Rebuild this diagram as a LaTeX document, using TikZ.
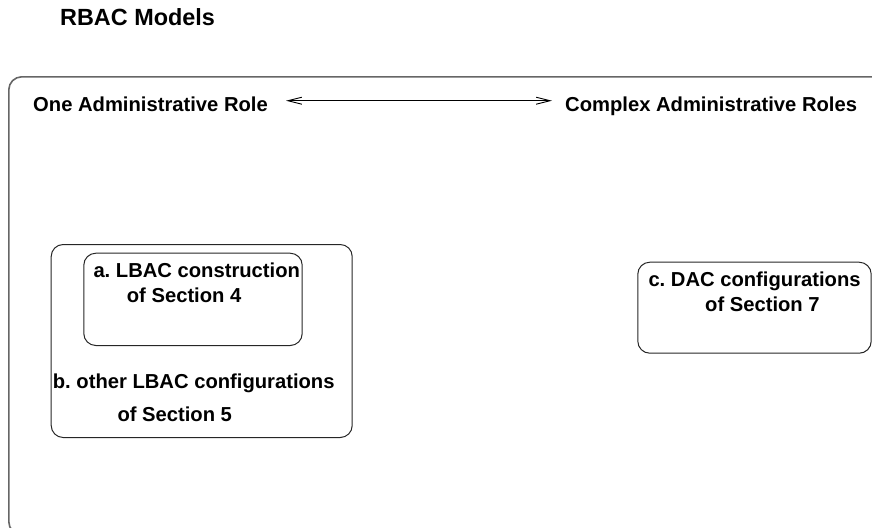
\documentclass[tikz,border=0pt]{standalone}
\usepackage{fontspec}
\setmainfont{Liberation Sans}
\usetikzlibrary{arrows.meta}
\begin{document}
\frenchspacing
\begin{tikzpicture}[x=1pt,y=-1pt,
  lbl/.style={anchor=base west,inner sep=0pt,font=\fontsize{20.2}{24}\selectfont\bfseries\frenchspacing},
  ttl/.style={anchor=base west,inner sep=0pt,font=\fontsize{23.4}{28}\selectfont\bfseries},
  rbox/.style={draw=black!85,line width=1pt,rounded corners=12pt,anchor=north west,inner sep=0pt},
  outerbox/.style={draw=black!60,line width=1.6pt,rounded corners=13pt,anchor=north west,inner sep=0pt},
  dbl/.style={{Straight Barb[length=14pt,width=7pt]}-{Straight Barb[length=14pt,width=7pt]},line width=0.9pt}]
\useasboundingbox (0,0) rectangle (872,527);
\clip (0,0) rectangle (872,527);
\node[ttl] (title) at (60,26) {RBAC Models};
\node[outerbox,minimum width=890pt,minimum height=458pt] (outer) at (8,76) {};
\node[lbl] (one) at (33,111) {One Administrative Role};
\node[lbl] (complex) at (565,111) {Complex Administrative Roles};
\coordinate (al) at (286,100.7);
\coordinate (ar) at (552,100.7);
\draw[dbl] (al) -- (ar);
\node[rbox,minimum width=301pt,minimum height=193pt] (boxb) at (50.7,244) {};
\node[rbox,minimum width=218.4pt,minimum height=92.3pt] (boxa) at (83.3,252.7) {};
\node[rbox,minimum width=233.4pt,minimum height=91pt] (boxc) at (637.3,261.7) {};
\node[lbl] (a1) at (93.3,277) {a. LBAC construction};
\node[lbl] (a2) at (126.7,302.7) {of Section 4};
\node[lbl] (b1) at (52.7,388) {b. other LBAC configurations};
\node[lbl] (b2) at (117.3,421.7) {of Section 5};
\node[lbl] (c1) at (648.3,286.7) {c. DAC configurations};
\node[lbl] (c2) at (705,311.7) {of Section 7};
\end{tikzpicture}
\end{document}
